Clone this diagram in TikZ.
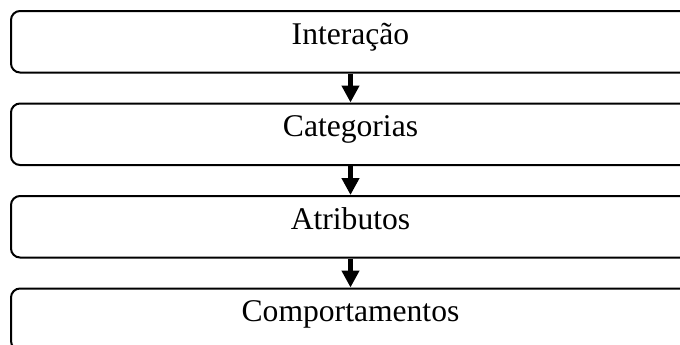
\documentclass[tikz,border=0pt]{standalone}
\usepackage{fontspec}
\setmainfont{Liberation Serif}
\usetikzlibrary{positioning,arrows.meta}

\begin{document}
\begin{tikzpicture}[
   x=0.5pt, y=0.5pt,
   every node/.style={draw, line width=1pt, rounded corners=4.5pt,
      minimum width=339.5pt, inner sep=0pt,
      text height=16.5pt, text depth=14.25pt,
      font=\fontsize{15.8}{18}\selectfont},
   node distance=14.5pt,
   flow/.style={line width=2.25pt, -{Triangle[width=8.5pt,length=8.5pt]}}]

\useasboundingbox (0,0) rectangle (680,-344);

\node[anchor=north] (inter) at (350.5,-10) {Interação};
\node[below=of inter] (categ) {Categorias};
\node[below=of categ] (atrib) {Atributos};
\node[below=of atrib] (comport) {Comportamentos};

\draw[flow] (inter) -- (categ);
\draw[flow] (categ) -- (atrib);
\draw[flow] (atrib) -- (comport);

\end{tikzpicture}
\end{document}
